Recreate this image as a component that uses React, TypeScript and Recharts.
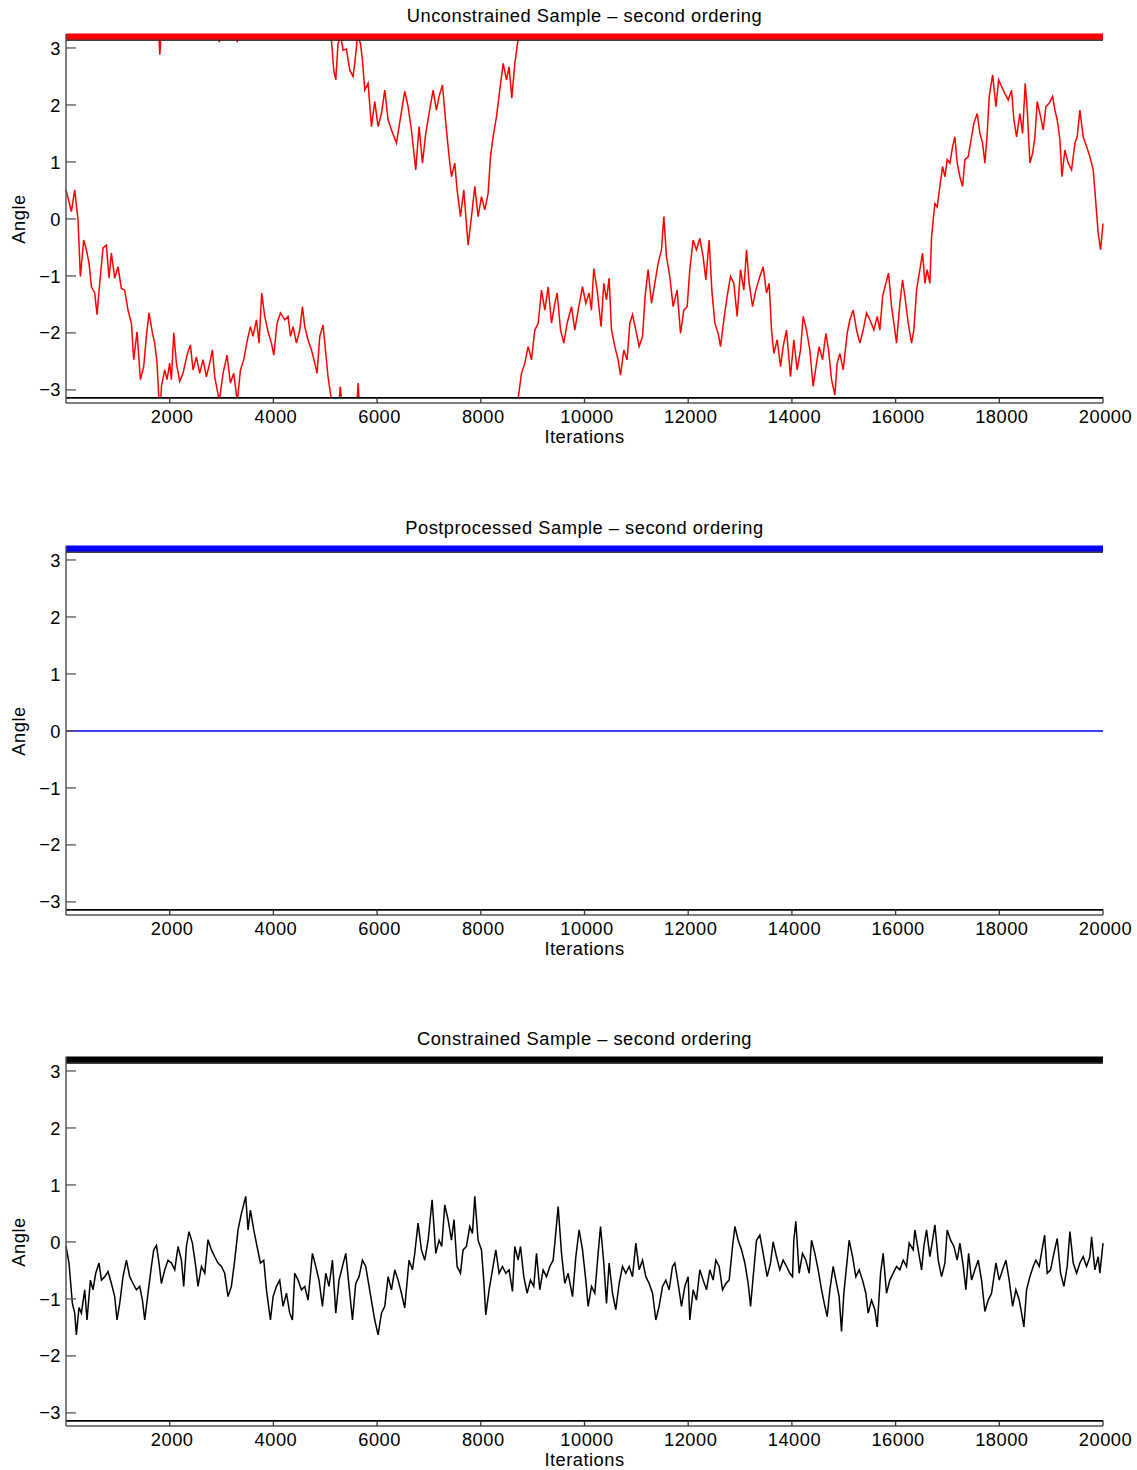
import { LineChart, Line, XAxis, YAxis, ReferenceLine } from 'recharts';

// [iteration, angle] samples; null marks a wrap between +pi and -pi
const unconstrained: [number, number | null][] = [
  [0, 0.51], [104, 0.13], [168, 0.51], [232, -0.02], [277, -1.01], [341, -0.37], [393, -0.54],
  [445, -0.78], [490, -1.19], [554, -1.3], [598, -1.68], [650, -1.13], [714, -0.51], [779, -0.46],
  [830, -1.04], [875, -0.6], [939, -1.04], [1003, -0.84], [1068, -1.22], [1132, -1.25], [1196, -1.6],
  [1261, -1.83], [1306, -2.47], [1370, -1.98], [1435, -2.82], [1499, -2.59], [1550, -2.06],
  [1601, -1.65], [1666, -2.0], [1711, -2.18], [1756, -2.53], [1790, -3.1416], [1792, null],
  [1795, 3.1416], [1810, 2.88], [1825, 3.1416], [1827, null], [1830, -3.1416], [1840, -2.94],
  [1904, -2.65], [1949, -2.82], [2000, -2.53], [2033, -2.82], [2078, -2.0], [2129, -2.53],
  [2193, -2.85], [2257, -2.71], [2334, -2.39], [2399, -2.21], [2450, -2.65], [2515, -2.42],
  [2579, -2.71], [2643, -2.47], [2708, -2.77], [2772, -2.53], [2823, -2.3], [2868, -2.77],
  [2945, -3.1416], [2947, null], [2950, 3.1416], [2955, 3.1], [2960, 3.1416], [2962, null],
  [2965, -3.1416], [3029, -2.71], [3106, -2.39], [3171, -2.88], [3235, -2.71], [3295, -3.1416],
  [3297, null], [3299, 3.1416], [3303, 3.1], [3307, 3.1416], [3309, null], [3312, -3.1416],
  [3364, -2.65], [3428, -2.47], [3492, -2.15], [3557, -1.89], [3607, -2.06], [3673, -1.77],
  [3723, -2.18], [3775, -1.3], [3833, -1.71], [3897, -1.98], [3962, -2.18], [4007, -2.39],
  [4071, -1.83], [4136, -1.65], [4219, -1.77], [4283, -1.71], [4329, -2.06], [4379, -1.89],
  [4444, -2.18], [4508, -1.95], [4560, -1.54], [4605, -1.89], [4668, -2.12], [4734, -2.3],
  [4798, -2.53], [4842, -2.71], [4894, -2.06], [4958, -1.86], [5004, -2.3], [5054, -2.77],
  [5100, -3.06], [5117, -3.1416], [5118, null], [5119, 3.1416], [5164, 2.61], [5203, 2.44],
  [5247, 3.08], [5270, 3.1416], [5271, null], [5272, -3.1416], [5290, -2.94], [5310, -3.1416],
  [5311, null], [5312, 3.1416], [5344, 2.96], [5408, 2.98], [5473, 2.61], [5537, 2.5],
  [5569, 2.73], [5615, 3.1416], [5616, null], [5617, -3.1416], [5634, -2.88], [5650, -3.1416],
  [5651, null], [5652, 3.1416], [5679, 3.08], [5717, 2.79], [5762, 2.26], [5826, 2.38],
  [5891, 1.62], [5955, 2.06], [6019, 1.62], [6084, 1.85], [6148, 2.26], [6212, 1.74],
  [6277, 1.56], [6373, 1.33], [6437, 1.7], [6533, 2.24], [6598, 1.97], [6662, 1.56], [6745, 0.86],
  [6810, 1.62], [6875, 0.98], [6938, 1.5], [7003, 1.85], [7080, 2.26], [7145, 1.91], [7195, 2.15],
  [7261, 2.35], [7325, 1.68], [7389, 1.09], [7434, 0.74], [7498, 0.98], [7543, 0.51], [7608, 0.04],
  [7672, 0.51], [7755, -0.46], [7820, 0.04], [7884, 0.57], [7948, 0.04], [8013, 0.39], [8077, 0.16],
  [8141, 0.45], [8187, 1.09], [8237, 1.44], [8302, 1.79], [8366, 2.26], [8431, 2.73], [8495, 2.44],
  [8546, 2.67], [8598, 2.12], [8656, 2.73], [8718, 3.1416], [8720, null], [8722, -3.1416],
  [8785, -2.71], [8849, -2.53], [8913, -2.24], [8978, -2.47], [9042, -1.95], [9106, -1.83],
  [9171, -1.25], [9235, -1.6], [9299, -1.19], [9364, -1.83], [9428, -1.48], [9473, -1.3],
  [9538, -1.95], [9601, -2.18], [9665, -1.83], [9750, -1.54], [9813, -1.95], [9878, -1.6],
  [9962, -1.19], [10025, -1.48], [10089, -1.3], [10134, -1.6], [10179, -0.87], [10243, -1.25],
  [10320, -1.89], [10372, -1.13], [10424, -1.42], [10475, -1.04], [10521, -1.95], [10585, -2.24],
  [10648, -2.47], [10694, -2.74], [10758, -2.3], [10822, -2.47], [10874, -1.83], [10926, -1.68],
  [10990, -1.95], [11054, -2.24], [11119, -2.06], [11169, -1.36], [11227, -0.89], [11292, -1.48],
  [11356, -1.13], [11420, -0.78], [11485, -0.54], [11530, 0.04], [11581, -0.66], [11645, -1.01],
  [11709, -1.54], [11786, -1.25], [11852, -2.01], [11916, -1.6], [11980, -1.54], [12031, -0.89],
  [12095, -0.37], [12160, -0.54], [12224, -0.34], [12288, -0.66], [12340, -1.07], [12404, -0.37],
  [12456, -1.25], [12514, -1.83], [12578, -2.01], [12623, -2.24], [12687, -1.77], [12751, -1.36],
  [12816, -1.01], [12880, -1.13], [12944, -1.71], [13009, -0.89], [13073, -1.25], [13125, -0.54],
  [13175, -1.13], [13241, -1.54], [13305, -1.25], [13382, -1.01], [13446, -0.84], [13511, -1.3],
  [13561, -1.13], [13607, -1.95], [13652, -2.36], [13716, -2.12], [13781, -2.59], [13831, -2.24],
  [13896, -1.95], [13973, -2.77], [14037, -2.12], [14101, -2.65], [14167, -2.3], [14217, -1.71],
  [14282, -1.95], [14346, -2.3], [14410, -2.94], [14475, -2.53], [14526, -2.24], [14591, -2.47],
  [14655, -2.01], [14707, -2.3], [14765, -2.82], [14829, -3.09], [14873, -2.53], [14925, -2.36],
  [14989, -2.65], [15066, -2.01], [15118, -1.77], [15182, -1.6], [15247, -1.95], [15311, -2.18],
  [15375, -1.95], [15440, -1.65], [15504, -1.77], [15581, -1.95], [15646, -1.71], [15697, -1.95],
  [15749, -1.36], [15812, -1.13], [15864, -0.95], [15922, -1.54], [15966, -1.83], [16018, -2.18],
  [16082, -1.48], [16134, -1.07], [16179, -1.36], [16243, -1.83], [16308, -2.18], [16352, -1.95],
  [16404, -1.25], [16468, -0.89], [16520, -0.6], [16565, -1.13], [16609, -0.89], [16661, -1.13],
  [16694, -0.31], [16725, -0.02], [16758, 0.27], [16802, 0.21], [16854, 0.57], [16906, 0.92],
  [16951, 0.74], [16995, 1.04], [17047, 0.98], [17099, 1.27], [17143, 1.44], [17188, 0.98],
  [17240, 0.74], [17292, 0.57], [17336, 1.04], [17400, 1.09], [17465, 1.44], [17510, 1.68],
  [17574, 1.85], [17626, 1.5], [17678, 1.33], [17722, 0.98], [17767, 1.5], [17806, 2.15],
  [17871, 2.53], [17935, 1.97], [17987, 2.44], [18045, 2.32], [18108, 2.2], [18172, 2.09],
  [18237, 2.26], [18281, 1.74], [18333, 1.44], [18397, 1.85], [18449, 1.5], [18500, 2.38],
  [18539, 1.91], [18590, 0.98], [18642, 1.15], [18687, 1.44], [18731, 2.06], [18797, 1.79],
  [18847, 1.56], [18899, 1.97], [18962, 2.03], [19028, 2.15], [19072, 1.91], [19117, 1.74],
  [19169, 1.39], [19207, 0.74], [19265, 1.21], [19329, 0.98], [19394, 0.86], [19458, 1.33],
  [19502, 1.44], [19554, 1.91], [19618, 1.44], [19683, 1.27], [19747, 1.09], [19811, 0.86],
  [19863, 0.27], [19907, -0.25], [19953, -0.54], [20000, -0.08],
];

const postprocessed: [number, number][] = [[0, 0], [20000, 0]];

const constrained: [number, number][] = [
  [0, -0.08], [58, -0.37], [123, -1.08], [168, -1.25], [200, -1.63], [251, -1.15], [297, -1.25],
  [361, -0.84], [405, -1.37], [471, -0.67], [521, -0.84], [573, -0.55], [637, -0.37], [683, -0.67],
  [747, -0.61], [811, -0.52], [876, -0.73], [939, -0.96], [984, -1.37], [1036, -1.08], [1100, -0.61],
  [1165, -0.32], [1229, -0.61], [1293, -0.73], [1358, -0.84], [1422, -0.78], [1474, -1.02],
  [1518, -1.37], [1582, -0.9], [1647, -0.43], [1692, -0.14], [1744, -0.06], [1794, -0.37],
  [1840, -0.73], [1904, -0.49], [1968, -0.32], [2033, -0.37], [2097, -0.49], [2161, -0.08],
  [2226, -0.32], [2270, -0.78], [2322, -0.08], [2373, 0.18], [2438, -0.02], [2502, -0.43],
  [2546, -0.78], [2612, -0.43], [2676, -0.55], [2739, 0.04], [2805, -0.14], [2868, -0.26],
  [2932, -0.37], [2998, -0.43], [3061, -0.55], [3125, -0.96], [3190, -0.78], [3254, -0.32],
  [3318, 0.21], [3383, 0.5], [3466, 0.8], [3511, 0.21], [3557, 0.56], [3621, 0.21], [3685, -0.08],
  [3750, -0.37], [3814, -0.32], [3866, -0.84], [3943, -1.37], [3994, -0.96], [4059, -0.78],
  [4122, -0.67], [4186, -1.13], [4252, -0.9], [4315, -1.25], [4367, -1.37], [4412, -0.55],
  [4476, -0.67], [4541, -0.84], [4605, -0.78], [4668, -1.02], [4753, -0.2], [4817, -0.43],
  [4880, -0.67], [4946, -1.13], [5010, -0.55], [5073, -0.78], [5139, -0.32], [5203, -1.25],
  [5266, -0.67], [5332, -0.43], [5396, -0.2], [5459, -0.78], [5525, -1.37], [5588, -0.73],
  [5652, -0.61], [5717, -0.32], [5781, -0.43], [5845, -0.78], [5910, -1.13], [5955, -1.37],
  [6019, -1.63], [6084, -1.25], [6148, -1.13], [6212, -0.61], [6277, -0.84], [6341, -0.49],
  [6405, -0.67], [6470, -0.9], [6533, -1.16], [6616, -0.32], [6682, -0.49], [6726, -0.2],
  [6790, 0.33], [6855, -0.14], [6919, -0.32], [6984, 0.03], [7061, 0.74], [7132, -0.2], [7195, 0.03],
  [7247, -0.08], [7305, 0.65], [7369, 0.39], [7434, 0.03], [7484, 0.39], [7543, -0.43], [7608, -0.55],
  [7658, -0.14], [7723, -0.08], [7787, 0.27], [7839, 0.15], [7884, 0.8], [7948, 0.03], [8013, -0.14],
  [8057, -0.67], [8096, -1.28], [8160, -0.84], [8225, -0.49], [8289, -0.14], [8353, -0.55],
  [8418, -0.43], [8482, -0.55], [8546, -0.49], [8611, -0.87], [8656, -0.08], [8720, -0.32],
  [8766, -0.08], [8829, -0.61], [8893, -0.9], [8958, -0.67], [9022, -0.78], [9074, -0.2],
  [9138, -0.84], [9202, -0.49], [9267, -0.61], [9331, -0.43], [9395, -0.32], [9428, -0.02],
  [9492, 0.62], [9557, -0.2], [9620, -0.73], [9684, -0.55], [9769, -0.96], [9833, -0.26], [9896, 0.21],
  [9962, -0.14], [10025, -0.67], [10070, -1.13], [10135, -0.78], [10199, -0.9], [10263, -0.2],
  [10309, 0.27], [10372, -0.37], [10424, -1.08], [10475, -0.37], [10540, -0.9], [10604, -1.19],
  [10668, -0.73], [10733, -0.43], [10797, -0.55], [10861, -0.43], [10926, -0.61], [10990, -0.02],
  [11054, -0.49], [11119, -0.32], [11183, -0.61], [11247, -0.73], [11312, -0.9], [11376, -1.37],
  [11439, -1.13], [11505, -0.78], [11568, -0.67], [11632, -0.84], [11697, -0.43], [11742, -0.37],
  [11806, -0.73], [11871, -1.13], [11935, -0.78], [11999, -0.61], [12031, -1.37], [12095, -0.84],
  [12160, -1.02], [12224, -0.49], [12288, -0.67], [12353, -0.84], [12417, -0.49], [12481, -0.67],
  [12533, -0.32], [12597, -0.43], [12662, -0.84], [12726, -0.73], [12790, -0.67], [12855, -0.08],
  [12900, 0.27], [12964, 0.03], [13029, -0.14], [13093, -0.37], [13157, -0.73], [13203, -1.13],
  [13253, -0.61], [13318, 0.03], [13382, 0.12], [13446, -0.2], [13523, -0.61], [13588, -0.37],
  [13638, 0.0], [13703, -0.26], [13767, -0.49], [13831, -0.32], [13896, -0.43], [13960, -0.55],
  [14012, -0.61], [14037, 0.03], [14076, 0.36], [14140, -0.55], [14205, -0.2], [14269, -0.32],
  [14333, -0.55], [14379, 0.03], [14443, -0.2], [14507, -0.49], [14572, -0.84], [14636, -1.13],
  [14681, -1.31], [14732, -0.84], [14796, -0.43], [14861, -0.73], [14911, -0.96], [14957, -1.57],
  [15002, -0.9], [15054, -0.43], [15104, 0.03], [15170, -0.26], [15233, -0.61], [15297, -0.49],
  [15362, -0.67], [15426, -0.9], [15471, -1.25], [15536, -1.02], [15600, -1.19], [15645, -1.49],
  [15710, -0.55], [15760, -0.2], [15825, -0.9], [15889, -0.67], [15953, -0.55], [16018, -0.43],
  [16082, -0.49], [16146, -0.32], [16211, -0.43], [16262, -0.02], [16339, -0.14], [16372, 0.21],
  [16436, -0.14], [16501, -0.49], [16545, -0.08], [16597, 0.21], [16661, -0.26], [16713, 0.03],
  [16758, 0.3], [16822, -0.32], [16887, -0.61], [16951, -0.37], [16995, 0.21], [17061, 0.03],
  [17125, -0.08], [17188, -0.32], [17240, -0.02], [17305, -0.43], [17356, -0.84], [17408, -0.2],
  [17465, -0.67], [17529, -0.49], [17593, -0.32], [17658, -0.67], [17722, -1.22], [17786, -1.02],
  [17851, -0.9], [17935, -0.37], [17999, -0.67], [18063, -0.49], [18127, -0.32], [18191, -0.67],
  [18257, -1.13], [18320, -0.84], [18384, -1.02], [18430, -1.25], [18474, -1.49], [18526, -0.84],
  [18590, -0.61], [18654, -0.43], [18706, -0.32], [18770, -0.43], [18835, -0.08], [18874, 0.12],
  [18924, -0.55], [18989, -0.49], [19053, -0.2], [19117, 0.06], [19182, -0.55], [19246, -0.78],
  [19310, -0.43], [19362, 0.18], [19426, -0.37], [19491, -0.55], [19554, -0.37], [19618, -0.26],
  [19683, -0.43], [19747, -0.26], [19780, 0.09], [19843, -0.49], [19907, -0.26], [19940, -0.55],
  [20000, -0.02],
];

const xTicks = [2000, 4000, 6000, 8000, 10000, 12000, 14000, 16000, 18000, 20000];
const yTicks = [-3, -2, -1, 0, 1, 2, 3];
const upperBand = 3.2;

const FONT = '"Liberation Sans", Arial, Helvetica, sans-serif';
const FONT_SIZE = 18.3;
const W = 1137;
const H = 470;
const PLOT_LEFT = 66;
const PLOT_BOTTOM = 403;
const MARGIN = { top: 34, right: 34, bottom: 0, left: 0 };
const PANEL_STEP = 511.5;

const panels = [
  { title: 'Unconstrained Sample \u2013 second ordering', color: '#ff0000', series: unconstrained },
  { title: 'Postprocessed Sample \u2013 second ordering', color: '#0000ff', series: postprocessed },
  { title: 'Constrained Sample \u2013 second ordering', color: '#000000', series: constrained },
];

const textStyle = { fontFamily: FONT, fontSize: FONT_SIZE, letterSpacing: 0.5, fill: '#000' };

const fmt = (v: number) => (v < 0 ? '\u2212' + Math.abs(v) : String(v));

// ticks point into the plot, labels sit outside
function YTick({ x, y, payload }: any) {
  return (
    <g>
      <line x1={x} x2={x + 10} y1={y} y2={y} stroke="#555" strokeWidth={1.3} />
      <text x={x - 5} y={y} dy="0.36em" textAnchor="end" style={textStyle}>
        {fmt(payload.value)}
      </text>
    </g>
  );
}

function XTick({ x, y, payload }: any) {
  return (
    <g>
      <line x1={x} x2={x} y1={y} y2={y - 5.5} stroke="#333" strokeWidth={1.3} />
      <text x={x + 2.5} y={y + 20} textAnchor="middle" style={textStyle}>
        {payload.value}
      </text>
    </g>
  );
}

const labelStyle = {
  position: 'absolute' as const,
  fontFamily: FONT,
  fontSize: FONT_SIZE,
  letterSpacing: 0.5,
  lineHeight: '20px',
  whiteSpace: 'nowrap' as const,
};

function Panel({ title, color, series }: { title: string; color: string; series: [number, number | null][] }) {
  const data = series.map(([it, v]) => ({ it, v }));
  return (
    <div style={{ position: 'relative', width: W, height: H }}>
      <div style={{ ...labelStyle, top: 6, left: PLOT_LEFT, width: W - PLOT_LEFT - MARGIN.right, textAlign: 'center' }}>
        {title}
      </div>
      <div style={{ ...labelStyle, left: 19, top: 219, transform: 'translate(-50%, -50%) rotate(-90deg)' }}>
        Angle
      </div>
      <div style={{ ...labelStyle, top: 427, left: PLOT_LEFT, width: W - PLOT_LEFT - MARGIN.right, textAlign: 'center' }}>
        Iterations
      </div>
      <div style={{ position: 'absolute', left: 0, top: 0 }}>
        <LineChart width={W} height={H} data={data} margin={MARGIN}>
          <XAxis
            type="number"
            dataKey="it"
            domain={[0, 20000]}
            ticks={xTicks}
            interval={0}
            tickSize={0}
            tickMargin={0}
            tickLine={false}
            height={H - PLOT_BOTTOM}
            axisLine={{ stroke: '#555', strokeWidth: 1.5 }}
            tick={<XTick />}
          />
          <YAxis
            type="number"
            domain={[-3.23, 3.245]}
            allowDataOverflow
            ticks={yTicks}
            interval={0}
            tickSize={0}
            tickMargin={0}
            tickLine={false}
            width={PLOT_LEFT}
            axisLine={{ stroke: '#555', strokeWidth: 1.5 }}
            tick={<YTick />}
          />
          <Line
            type="linear"
            dataKey="v"
            stroke={color}
            strokeWidth={1.5}
            dot={false}
            connectNulls={false}
            isAnimationActive={false}
          />
          <ReferenceLine y={Math.PI} stroke="#000" strokeWidth={1.5} />
          <ReferenceLine y={-Math.PI} stroke="#000" strokeWidth={1.8} />
          <ReferenceLine y={upperBand} stroke={color} strokeWidth={6} />
        </LineChart>
      </div>
    </div>
  );
}

export default function App() {
  return (
    <div style={{ position: 'absolute', left: 0, top: 0, width: W, height: 1470, background: '#fff' }}>
      {panels.map((p, i) => (
        <div key={p.title} style={{ position: 'absolute', left: 0, top: i * PANEL_STEP }}>
          <Panel title={p.title} color={p.color} series={p.series} />
        </div>
      ))}
    </div>
  );
}
